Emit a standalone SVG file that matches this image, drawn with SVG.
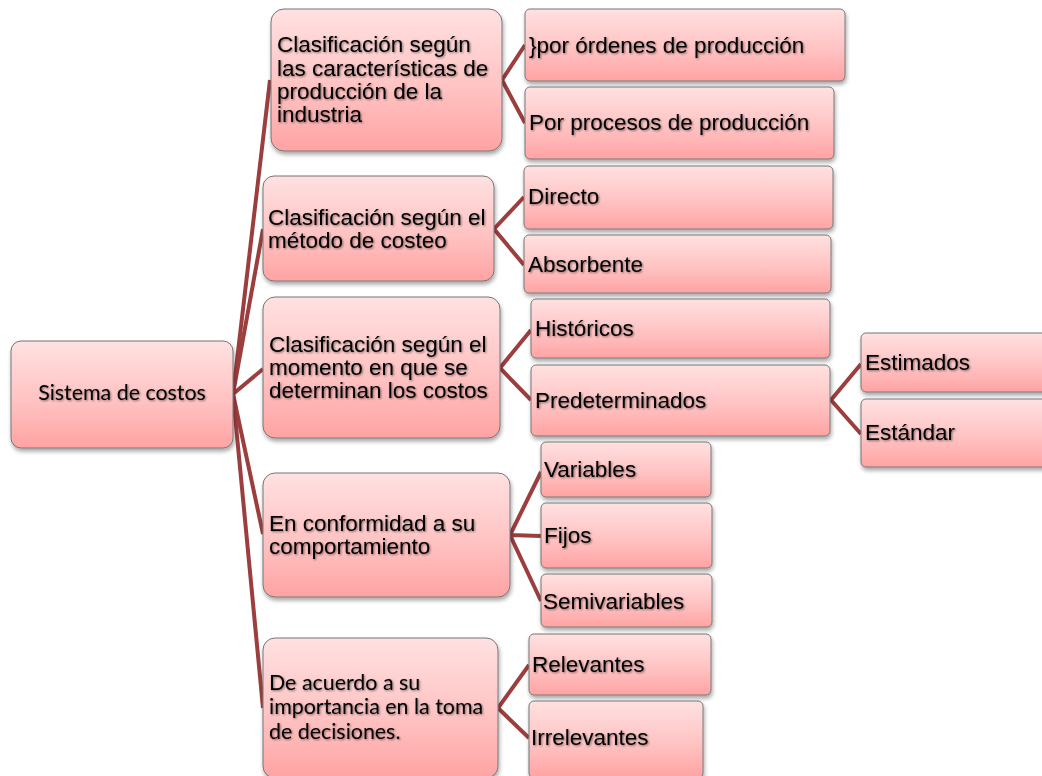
<svg xmlns="http://www.w3.org/2000/svg" width="1042" height="776" viewBox="0 0 1042 776">
  <defs>
    <linearGradient id="pink" x1="0" y1="0" x2="0" y2="1">
      <stop offset="0" stop-color="#ffe1e1"/>
      <stop offset="0.55" stop-color="#ffc3c3"/>
      <stop offset="1" stop-color="#ffa3a3"/>
    </linearGradient>
    <filter id="shadow" x="-10%" y="-10%" width="125%" height="130%">
      <feGaussianBlur in="SourceAlpha" stdDeviation="2"/>
      <feOffset dx="1" dy="3" result="b"/>
      <feComponentTransfer><feFuncA type="linear" slope="0.35"/></feComponentTransfer>
      <feMerge><feMergeNode/><feMergeNode in="SourceGraphic"/></feMerge>
    </filter>
    <filter id="tshadow" x="-5%" y="-20%" width="110%" height="150%">
      <feGaussianBlur in="SourceAlpha" stdDeviation="0.8"/>
      <feOffset dx="1" dy="1.2" result="b"/>
      <feComponentTransfer><feFuncA type="linear" slope="0.5"/></feComponentTransfer>
      <feMerge><feMergeNode/><feMergeNode in="SourceGraphic"/></feMerge>
    </filter>
  </defs>
  <style>
    .box { fill: url(#pink); stroke: #767676; stroke-width: 1; filter: url(#shadow); }
    .t { font-family: "Liberation Sans", Arial, sans-serif; font-size: 22.5px; fill: #000; filter: url(#tshadow); }
    .c { font-family: Lato, "Noto Sans", sans-serif; font-size: 21.4px; fill: #000; filter: url(#tshadow); }
    .conn { fill: none; stroke: #9d3e3e; stroke-width: 4; stroke-linejoin: miter; }
  </style>
  <rect width="1042" height="776" fill="#fff"/>

  <!-- connectors -->
  <g id="connectors">
    <path class="conn" d="M233 394 L270 80"/>
    <path class="conn" d="M233 394 L263 229"/>
    <path class="conn" d="M233 394 L263 369"/>
    <path class="conn" d="M233 394 L263 534"/>
    <path class="conn" d="M233 394 L263 708"/>
    <path class="conn" d="M525 45 L502 80 L525 123"/>
    <path class="conn" d="M524 197 L494 229 L524 265"/>
    <path class="conn" d="M531 330 L500 368 L531 400"/>
    <path class="conn" d="M861 364 L831 400 L861 434"/>
    <path class="conn" d="M541 472 L510 535 L541 601 M510 535 L541 536"/>
    <path class="conn" d="M529 665 L498 708 L529 738"/>
  </g>

  <!-- root -->
  <g id="root">
    <rect class="box" x="11" y="341" width="222" height="107" rx="10"/>
    <text class="c" x="122" y="400" text-anchor="middle">Sistema de costos</text>
  </g>

  <!-- first level -->
  <g id="n-caracteristicas">
    <rect class="box" x="271" y="9" width="231" height="142" rx="13"/>
    <text class="t" x="277" y="52">Clasificación según</text>
    <text class="t" x="277" y="75.5">las características de</text>
    <text class="t" x="277" y="98.5">producción de la</text>
    <text class="t" x="277" y="122">industria</text>
  </g>
  <g id="n-metodo">
    <rect class="box" x="263" y="176" width="231" height="105" rx="11"/>
    <text class="t" x="268" y="225">Clasificación según el</text>
    <text class="t" x="268" y="248">método de costeo</text>
  </g>
  <g id="n-momento">
    <rect class="box" x="263" y="297" width="237" height="141" rx="12"/>
    <text class="t" x="269" y="352">Clasificación según el</text>
    <text class="t" x="269" y="375">momento en que se</text>
    <text class="t" x="269" y="398">determinan los costos</text>
  </g>
  <g id="n-comportamiento">
    <rect class="box" x="263" y="473" width="247" height="124" rx="12"/>
    <text class="t" x="269" y="531">En conformidad a su</text>
    <text class="t" x="269" y="554">comportamiento</text>
  </g>
  <g id="n-decisiones">
    <rect class="box" x="263" y="638" width="235" height="140" rx="12"/>
    <text class="c" x="269" y="690">De acuerdo a su</text>
    <text class="c" x="269" y="714">importancia en la toma</text>
    <text class="c" x="269" y="739">de decisiones.</text>
  </g>

  <!-- second level -->
  <g id="n-ordenes">
    <rect class="box" x="525" y="9" width="320" height="72" rx="5"/>
    <text class="t" x="529" y="53">}por órdenes de producción</text>
  </g>
  <g id="n-procesos">
    <rect class="box" x="525" y="87" width="309" height="72" rx="5"/>
    <text class="t" x="529" y="130">Por procesos de producción</text>
  </g>
  <g id="n-directo">
    <rect class="box" x="524" y="166" width="309" height="63" rx="5"/>
    <text class="t" x="528" y="204">Directo</text>
  </g>
  <g id="n-absorbente">
    <rect class="box" x="524" y="235" width="307" height="58" rx="5"/>
    <text class="t" x="528" y="272">Absorbente</text>
  </g>
  <g id="n-historicos">
    <rect class="box" x="531" y="299" width="299" height="59" rx="5"/>
    <text class="t" x="535" y="336">Históricos</text>
  </g>
  <g id="n-predeterminados">
    <rect class="box" x="531" y="365" width="299" height="71" rx="5"/>
    <text class="t" x="535" y="408">Predeterminados</text>
  </g>
  <g id="n-variables">
    <rect class="box" x="541" y="442" width="170" height="55" rx="5"/>
    <text class="t" x="544" y="477">Variables</text>
  </g>
  <g id="n-fijos">
    <rect class="box" x="541" y="503" width="171" height="65" rx="5"/>
    <text class="t" x="544" y="543">Fijos</text>
  </g>
  <g id="n-semivariables">
    <rect class="box" x="541" y="574" width="171" height="53" rx="5"/>
    <text class="t" x="543" y="609">Semivariables</text>
  </g>
  <g id="n-relevantes">
    <rect class="box" x="529" y="634" width="182" height="61" rx="5"/>
    <text class="t" x="532" y="672">Relevantes</text>
  </g>
  <g id="n-irrelevantes">
    <rect class="box" x="529" y="701" width="174" height="77" rx="5"/>
    <text class="t" x="531" y="745">Irrelevantes</text>
  </g>

  <!-- third level -->
  <g id="n-estimados">
    <rect class="box" x="861" y="333" width="190" height="59" rx="5"/>
    <text class="t" x="865" y="370">Estimados</text>
  </g>
  <g id="n-estandar">
    <rect class="box" x="861" y="399" width="190" height="68" rx="5"/>
    <text class="t" x="865" y="440">Estándar</text>
  </g>
</svg>
